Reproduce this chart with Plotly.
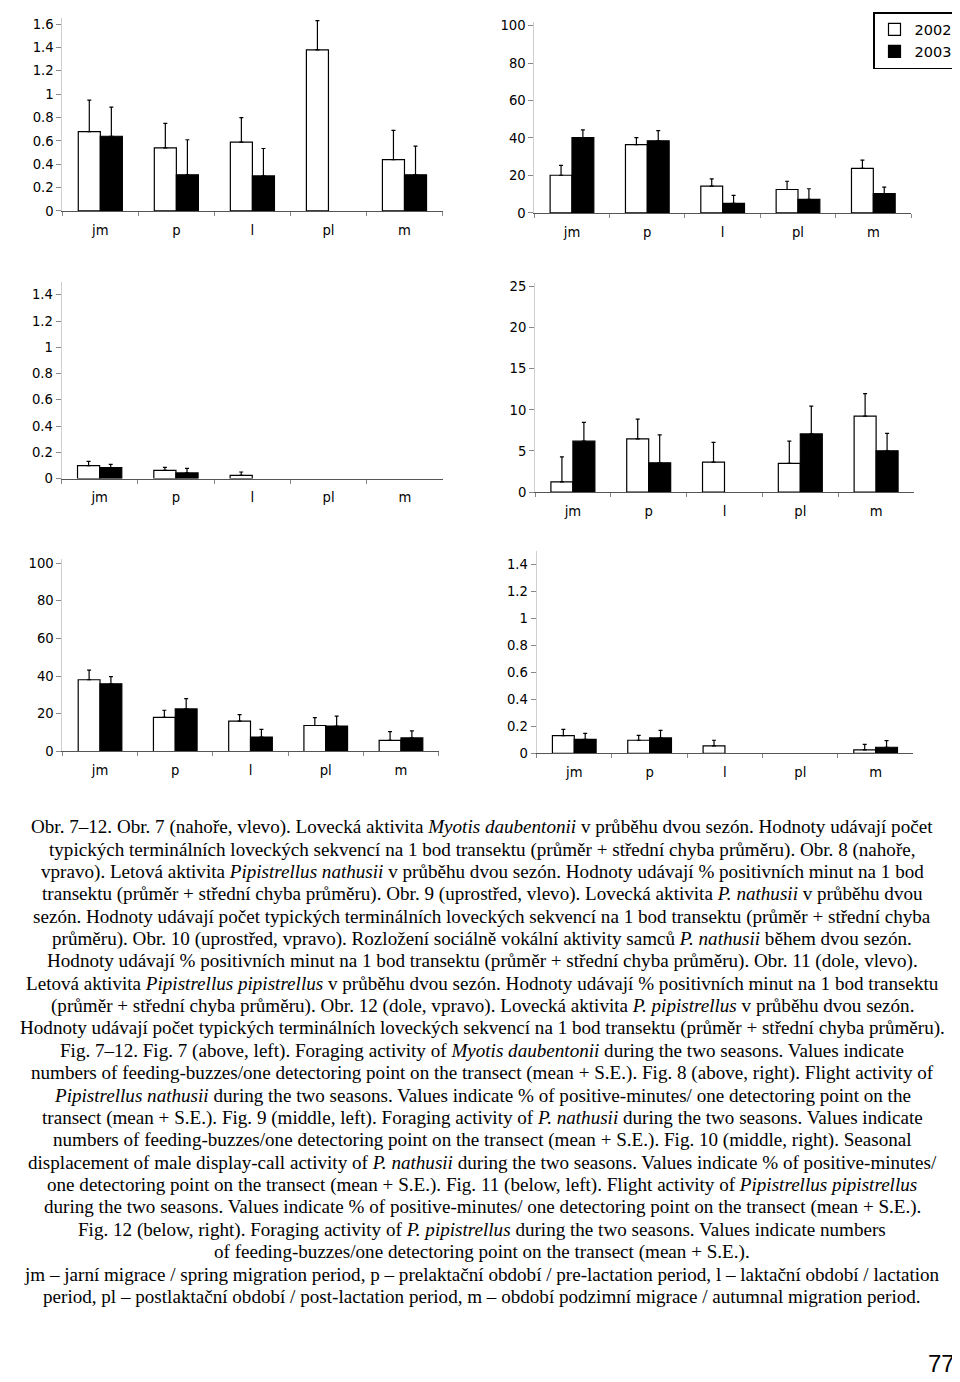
import plotly.graph_objects as go

# The page body adds an 8 px margin; the figure is sized to fill the rest of the window.
OFF = 8
W, H = 960 - OFF, 1382 - OFF

categories = ["jm", "p", "l", "pl", "m"]
years = ["2002", "2003"]

# Fig. 7 – Myotis daubentonii foraging
fig7_2002 = [0.68, 0.54, 0.59, 1.38, 0.44]
fig7_2002_se = [0.27, 0.21, 0.21, 0.25, 0.25]
fig7_2003 = [0.64, 0.31, 0.30, 0.0, 0.31]
fig7_2003_se = [0.25, 0.30, 0.235, 0.0, 0.245]
# Fig. 8 – P. nathusii flight activity
fig8_2002 = [20.1, 36.5, 14.3, 12.5, 23.8]
fig8_2002_se = [5.3, 3.7, 3.9, 4.4, 4.4]
fig8_2003 = [40.2, 38.5, 5.1, 7.2, 10.3]
fig8_2003_se = [4.1, 5.4, 4.3, 5.7, 3.5]
# Fig. 9 – P. nathusii foraging
fig9_2002 = [0.098, 0.063, 0.025, 0.0, 0.0]
fig9_2002_se = [0.033, 0.023, 0.025, 0.0, 0.0]
fig9_2003 = [0.083, 0.043, 0.0, 0.0, 0.0]
fig9_2003_se = [0.026, 0.035, 0.0, 0.0, 0.0]
# Fig. 10 – P. nathusii display calls
fig10_2002 = [1.24, 6.47, 3.65, 3.5, 9.24]
fig10_2002_se = [3.05, 2.4, 2.4, 2.7, 2.74]
fig10_2003 = [6.19, 3.57, 0.0, 7.07, 5.02]
fig10_2003_se = [2.3, 3.4, 0.0, 3.4, 2.13]
# Fig. 11 – P. pipistrellus flight activity
fig11_2002 = [38.1, 18.1, 16.1, 13.8, 5.95]
fig11_2002_se = [5.1, 3.8, 3.5, 4.2, 4.6]
fig11_2003 = [35.9, 22.6, 7.7, 13.5, 7.2]
fig11_2003_se = [3.9, 5.5, 4.0, 5.3, 3.7]
# Fig. 12 – P. pipistrellus foraging
fig12_2002 = [0.132, 0.098, 0.057, 0.0, 0.027]
fig12_2002_se = [0.047, 0.037, 0.041, 0.0, 0.041]
fig12_2003 = [0.105, 0.115, 0.0, 0.0, 0.046]
fig12_2003_se = [0.044, 0.056, 0.0, 0.0, 0.05]

panels = [
    dict(d2002=fig7_2002, e2002=fig7_2002_se, d2003=fig7_2003, e2003=fig7_2003_se,
         x=(62.3, 442.5), zero=208.7, top=14.4, rng=1.65, dtick=0.2),
    dict(d2002=fig8_2002, e2002=fig8_2002_se, d2003=fig8_2003, e2003=fig8_2003_se,
         x=(534.3, 911.0), zero=210.7, top=17.9, rng=102, dtick=20),
    dict(d2002=fig9_2002, e2002=fig9_2002_se, d2003=fig9_2003, e2003=fig9_2003_se,
         x=(61.5, 443.0), zero=478.7, top=280.1, rng=1.5, dtick=0.2),
    dict(d2002=fig10_2002, e2002=fig10_2002_se, d2003=fig10_2003, e2003=fig10_2003_se,
         x=(535.0, 914.0), zero=492.3, top=280.9, rng=25.5, dtick=5),
    dict(d2002=fig11_2002, e2002=fig11_2002_se, d2003=fig11_2003, e2003=fig11_2003_se,
         x=(62.4, 438.6), zero=754.0, top=560.2, rng=102, dtick=20),
    dict(d2002=fig12_2002, e2002=fig12_2002_se, d2003=fig12_2003, e2003=fig12_2003_se,
         x=(536.6, 913.3), zero=756.0, top=552.1, rng=1.5, dtick=0.2),
]

caption_lines = [
    "Obr. 7–12. Obr. 7 (nahoře, vlevo). Lovecká aktivita <i>Myotis daubentonii</i> v průběhu dvou sezón. Hodnoty udávají počet",
    "typických terminálních loveckých sekvencí na 1 bod transektu (průměr + střední chyba průměru). Obr. 8 (nahoře,",
    "vpravo). Letová aktivita <i>Pipistrellus nathusii</i> v průběhu dvou sezón. Hodnoty udávají % positivních minut na 1 bod",
    "transektu (průměr + střední chyba průměru). Obr. 9 (uprostřed, vlevo). Lovecká aktivita <i>P. nathusii</i> v průběhu dvou",
    "sezón. Hodnoty udávají počet typických terminálních loveckých sekvencí na 1 bod transektu (průměr + střední chyba",
    "průměru). Obr. 10 (uprostřed, vpravo). Rozložení sociálně vokální aktivity samců <i>P. nathusii</i> během dvou sezón.",
    "Hodnoty udávají % positivních minut na 1 bod transektu (průměr + střední chyba průměru). Obr. 11 (dole, vlevo).",
    "Letová aktivita <i>Pipistrellus pipistrellus</i> v průběhu dvou sezón. Hodnoty udávají % positivních minut na 1 bod transektu",
    "(průměr + střední chyba průměru). Obr. 12 (dole, vpravo). Lovecká aktivita <i>P. pipistrellus</i> v průběhu dvou sezón.",
    "Hodnoty udávají počet typických terminálních loveckých sekvencí na 1 bod transektu (průměr + střední chyba průměru).",
    "Fig. 7–12. Fig. 7 (above, left). Foraging activity of <i>Myotis daubentonii</i> during the two seasons. Values indicate",
    "numbers of feeding-buzzes/one detectoring point on the transect (mean + S.E.). Fig. 8 (above, right). Flight activity of",
    "<i>Pipistrellus nathusii</i> during the two seasons. Values indicate % of positive-minutes/ one detectoring point on the",
    "transect (mean + S.E.). Fig. 9 (middle, left). Foraging activity of <i>P. nathusii</i> during the two seasons. Values indicate",
    "numbers of feeding-buzzes/one detectoring point on the transect (mean + S.E.). Fig. 10 (middle, right). Seasonal",
    "displacement of male display-call activity of <i>P. nathusii</i> during the two seasons. Values indicate % of positive-minutes/",
    "one detectoring point on the transect (mean + S.E.). Fig. 11 (below, left). Flight activity of <i>Pipistrellus pipistrellus</i>",
    "during the two seasons. Values indicate % of positive-minutes/ one detectoring point on the transect (mean + S.E.).",
    "Fig. 12 (below, right). Foraging activity of <i>P. pipistrellus</i> during the two seasons. Values indicate numbers",
    "of feeding-buzzes/one detectoring point on the transect (mean + S.E.).",
    "jm – jarní migrace / spring migration period, p – prelaktační období / pre-lactation period, l – laktační období / lactation",
    "period, pl – postlaktační období / post-lactation period, m – období podzimní migrace / autumnal migration period.",
]
page_number = "77"

AX_FONT = dict(family="DejaVu Sans", size=13.2, color="black")


def px(xp):
    return (xp - OFF) / W


def py(yp):
    return 1 - (yp - OFF) / H


def nz(vals):
    return [v if v > 0 else None for v in vals]


fig = go.Figure()
layout_axes = {}
for i, p in enumerate(panels):
    n = "" if i == 0 else str(i + 1)
    xa, ya = "x" + n, "y" + n
    for year, vals, errs, fill in [("2002", p["d2002"], p["e2002"], "white"),
                                    ("2003", p["d2003"], p["e2003"], "black")]:
        fig.add_trace(go.Bar(
            x=categories, y=nz(vals), name=year, xaxis=xa, yaxis=ya,
            marker=dict(color=fill, line=dict(color="black", width=1.2)),
            error_y=dict(type="data", symmetric=False, array=nz(errs),
                         arrayminus=[0] * len(errs), color="black",
                         thickness=1.2, width=2),
            showlegend=(i == 0), legendgroup=year,
        ))
    x0, x1 = p["x"]
    layout_axes["xaxis" + n] = dict(
        domain=[px(x0), px(x1)], anchor=ya, type="category",
        showline=True, linecolor="#555", linewidth=1,
        ticks="outside", tickson="boundaries", ticklen=4, tickcolor="#888",
        ticklabelstandoff=7, tickfont=AX_FONT, showgrid=False, zeroline=False,
        fixedrange=True,
    )
    layout_axes["yaxis" + n] = dict(
        domain=[py(p["zero"]), py(p["top"])], anchor=xa,
        range=[0, p["rng"]], dtick=p["dtick"], tick0=0,
        showline=True, linecolor="#cfcfcf", linewidth=1,
        ticks="outside", ticklen=5, tickcolor="#888", tickwidth=1,
        tickfont=AX_FONT, showgrid=False, zeroline=False, fixedrange=True,
    )

annotations = []
y0_line, line_step = 830.5, 22.55
for k, line in enumerate(caption_lines):
    annotations.append(dict(
        text=line, xref="paper", yref="paper", x=px(482),
        y=py(y0_line + k * line_step), xanchor="center", yanchor="middle",
        showarrow=False,
        font=dict(family="Liberation Serif", size=19.1, color="black"),
    ))
annotations.append(dict(
    text=page_number, xref="paper", yref="paper", x=px(957), y=py(1371),
    xanchor="right", yanchor="middle", showarrow=False,
    font=dict(family="Liberation Sans Narrow, Liberation Sans", size=24, color="black"),
))

fig.update_layout(
    width=W, height=H, margin=dict(l=0, r=0, t=0, b=0),
    paper_bgcolor="white", plot_bgcolor="white",
    barmode="group", bargap=0.42, bargroupgap=0,
    legend=dict(x=px(958), y=1, xanchor="right", yanchor="top",
                bordercolor="black", borderwidth=1.5, bgcolor="white",
                font=dict(family="DejaVu Sans", size=14.5, color="black"),
                itemwidth=30, tracegroupgap=0, traceorder="normal"),
    annotations=annotations,
    **layout_axes,
)

fig.write_html("out.html")
